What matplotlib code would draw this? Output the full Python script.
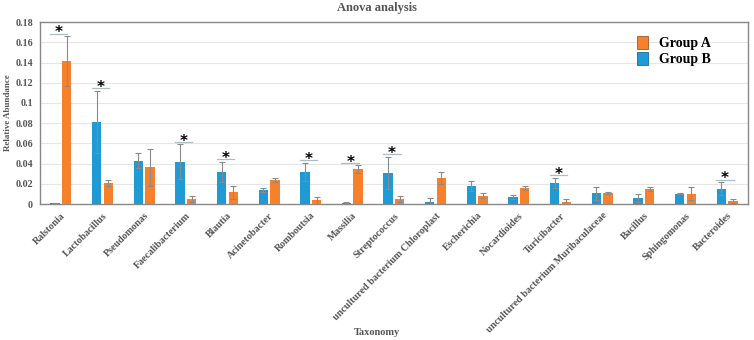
import numpy as np
import matplotlib
matplotlib.use('Agg')
import matplotlib.pyplot as plt
from matplotlib.patches import Patch

# Data
taxa = ['Ralstonia', 'Lactobacillus', 'Pseudomonas', 'Faecalibacterium', 'Blautia',
        'Acinetobacter', 'Romboutsia', 'Massilia', 'Streptococcus',
        'uncultured bacterium Chloroplast', 'Escherichia', 'Nocardioides',
        'Turicibacter', 'uncultured bacterium Muribaculaceae', 'Bacillus',
        'Sphingomonas', 'Bacteroides']

group_b = [0.0007, 0.081, 0.043, 0.042, 0.032, 0.014, 0.032, 0.001, 0.031,
           0.0023, 0.018, 0.007, 0.0207, 0.0107, 0.006, 0.0103, 0.0153]
group_b_err = [0.0003, 0.031, 0.0072, 0.017, 0.010, 0.0017, 0.009, 0.0005, 0.016,
               0.0037, 0.005, 0.002, 0.0053, 0.0066, 0.0037, 0.0007, 0.0064]

group_a = [0.1414, 0.0205, 0.0363, 0.0046, 0.0115, 0.0237, 0.0036, 0.0346, 0.005,
           0.026, 0.0083, 0.0157, 0.002, 0.0107, 0.015, 0.0103, 0.003]
group_a_err = [0.0246, 0.0029, 0.018, 0.003, 0.0063, 0.0017, 0.0033, 0.0036, 0.003,
               0.006, 0.0027, 0.0023, 0.0027, 0.001, 0.0017, 0.0067, 0.0023]

significant = ['Ralstonia', 'Lactobacillus', 'Faecalibacterium', 'Blautia', 'Romboutsia',
               'Massilia', 'Streptococcus', 'Turicibacter', 'Bacteroides']

blue = '#1E9AD6'
orange = '#F7812A'
serif = ['Liberation Serif', 'DejaVu Serif']

fig = plt.figure(figsize=(7.54, 3.40), dpi=100)
ax = fig.add_axes([0.053, 0.40, 0.939, 0.535])

x = np.arange(len(taxa))
w = 0.225
off = 0.14
ax.bar(x - off, group_b, w, color=blue, zorder=3)
ax.bar(x + off, group_a, w, color=orange, zorder=3)
ax.errorbar(x - off, group_b, yerr=group_b_err, fmt='none', ecolor='#8a8a8a',
            elinewidth=0.8, capsize=2, capthick=0.8, zorder=4)
ax.errorbar(x + off, group_a, yerr=group_a_err, fmt='none', ecolor='#8a8a8a',
            elinewidth=0.8, capsize=2, capthick=0.8, zorder=4)

# significance markers
for i, t in enumerate(taxa):
    if t in significant:
        top = max(group_b[i] + group_b_err[i], group_a[i] + group_a_err[i]) + 0.0025
        ax.plot([i - 0.26, i + 0.16], [top, top], color='#a9bcc8', lw=0.9, zorder=5)
        ax.text(i - 0.05, top + 0.0008, '*', ha='center', va='center', fontsize=11,
                family='DejaVu Sans', fontweight='bold', color='black', zorder=6)

ax.set_xlim(-0.5, len(taxa) - 0.5)
ax.set_ylim(0, 0.18)
ax.set_yticks(np.arange(0, 0.181, 0.02))
ax.set_yticklabels(['0', '0.02', '0.04', '0.06', '0.08', '0.1', '0.12', '0.14', '0.16', '0.18'])
ax.set_xticks(x)
ax.set_xticklabels(taxa, rotation=45, ha='right', rotation_mode='anchor')
ax.tick_params(axis='both', length=0, colors='#555555', labelsize=7.2, pad=5)
for lab in ax.get_xticklabels() + ax.get_yticklabels():
    lab.set_family(serif)
    lab.set_fontweight('bold')
    lab.set_color('#555555')

ax.grid(axis='y', color='#e6e6e6', lw=0.8, zorder=0)
for s in ax.spines.values():
    s.set_color('#888888')
    s.set_linewidth(1.0)

ax.set_ylabel('Relative Abundance', family=serif, fontweight='bold', fontsize=6.5,
              color='#555555', labelpad=2)
fig.text(0.5, 0.015, 'Taxonomy', ha='center', family=serif, fontweight='bold',
         fontsize=7.5, color='#555555')
fig.text(0.5, 0.968, 'Anova analysis', ha='center', family=serif, fontweight='bold',
         fontsize=9, color='#555555')

handles = [Patch(facecolor=orange, edgecolor='#9a5a2a', linewidth=0.6, label='Group A'),
           Patch(facecolor=blue, edgecolor='#1a6a9a', linewidth=0.6, label='Group B')]
leg = ax.legend(handles=handles, loc='upper left', bbox_to_anchor=(0.825, 0.99),
                frameon=False, prop={'family': serif, 'weight': 'bold', 'size': 10},
                handlelength=0.8, handleheight=1.0, labelspacing=0.15, handletextpad=0.8)

fig.savefig('out.png', dpi=100)
